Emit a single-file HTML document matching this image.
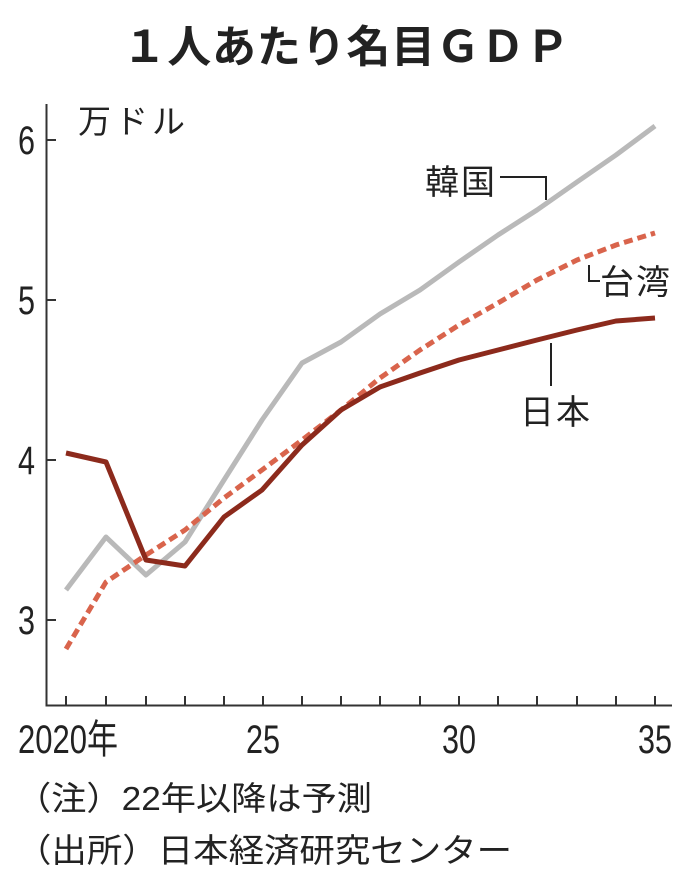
<!DOCTYPE html>
<html><head><meta charset="utf-8"><style>
html,body{margin:0;padding:0;background:#fff;}
svg{display:block;}
text{font-family:"Liberation Sans","Noto Sans CJK JP",sans-serif;fill:#222;}
.j{font-family:"Noto Sans CJK JP",sans-serif;}
</style></head><body>
<svg width="696" height="882" viewBox="0 0 696 882">
<rect width="696" height="882" fill="#fff"/>
<text x="347" y="62" text-anchor="middle" font-size="44" font-weight="bold" letter-spacing="2" class="j" textLength="449">１人あたり名目ＧＤＰ</text>
<text x="78" y="133" font-size="33" class="j" textLength="107">万ドル</text>
<path d="M46.5 104 V705.5 H672" fill="none" stroke="#333" stroke-width="2"/>
<g stroke="#333" stroke-width="2">
<line x1="46" y1="140" x2="56" y2="140"/><line x1="46" y1="300" x2="56" y2="300"/>
<line x1="46" y1="460" x2="56" y2="460"/><line x1="46" y1="620" x2="56" y2="620"/>
<line x1="66" y1="705" x2="66" y2="696"/><line x1="106" y1="705" x2="106" y2="696"/>
<line x1="146" y1="705" x2="146" y2="696"/><line x1="185" y1="705" x2="185" y2="696"/>
<line x1="224" y1="705" x2="224" y2="696"/><line x1="263" y1="705" x2="263" y2="696"/>
<line x1="302" y1="705" x2="302" y2="696"/><line x1="341" y1="705" x2="341" y2="696"/>
<line x1="380" y1="705" x2="380" y2="696"/><line x1="420" y1="705" x2="420" y2="696"/>
<line x1="459" y1="705" x2="459" y2="696"/><line x1="498" y1="705" x2="498" y2="696"/>
<line x1="537" y1="705" x2="537" y2="696"/><line x1="577" y1="705" x2="577" y2="696"/>
<line x1="616" y1="705" x2="616" y2="696"/><line x1="655" y1="705" x2="655" y2="696"/>
</g>
<g font-size="40">
<text x="18" y="154" textLength="17" lengthAdjust="spacingAndGlyphs">6</text>
<text x="18" y="314" textLength="17" lengthAdjust="spacingAndGlyphs">5</text>
<text x="18" y="474" textLength="17" lengthAdjust="spacingAndGlyphs">4</text>
<text x="18" y="634" textLength="17" lengthAdjust="spacingAndGlyphs">3</text>
<text x="18" y="753" textLength="100" lengthAdjust="spacingAndGlyphs">2020年</text>
<text x="246" y="753" textLength="34" lengthAdjust="spacingAndGlyphs">25</text>
<text x="442" y="753" textLength="34" lengthAdjust="spacingAndGlyphs">30</text>
<text x="638" y="753" textLength="34" lengthAdjust="spacingAndGlyphs">35</text>
</g>
<polyline fill="none" stroke="#b9b9b9" stroke-width="5" stroke-linejoin="round" points="66,590 106,537 146,575 185,542 224,480 262,420 302,363 341,342 380,314 420,290 459,262 498,235 537,210 577,182 616,155 655,126"/>
<polyline fill="none" stroke="#d9644c" stroke-width="5" stroke-dasharray="9,5" points="66,649 106,582 146,555 185,530 224,498 262,470 302,440 341,410 380,378 420,350 459,325 498,303 537,280 577,260 616,245 655,233"/>
<polyline fill="none" stroke="#8c2a1c" stroke-width="5" stroke-linejoin="round" points="66,453 106,462 146,560 185,566 224,517 262,490 302,445 341,410 380,387 420,373 459,360 498,350 537,340 577,330 616,321 655,318"/>
<g stroke="#222" stroke-width="2" fill="none">
<path d="M500 177 H546 V200"/>
<path d="M589 265 V281 H600"/>
<path d="M551 343 V386"/>
</g>
<g font-size="34" class="j">
<text x="425" y="194" textLength="70">韓国</text>
<text x="600" y="294" textLength="70">台湾</text>
<text x="520" y="424" textLength="70">日本</text>
<text x="16" y="810" font-size="33" textLength="356" lengthAdjust="spacingAndGlyphs">（注）22年以降は予測</text>
<text x="16" y="862" font-size="33" textLength="496" lengthAdjust="spacingAndGlyphs">（出所）日本経済研究センター</text>
</g>
</svg>
</body></html>
